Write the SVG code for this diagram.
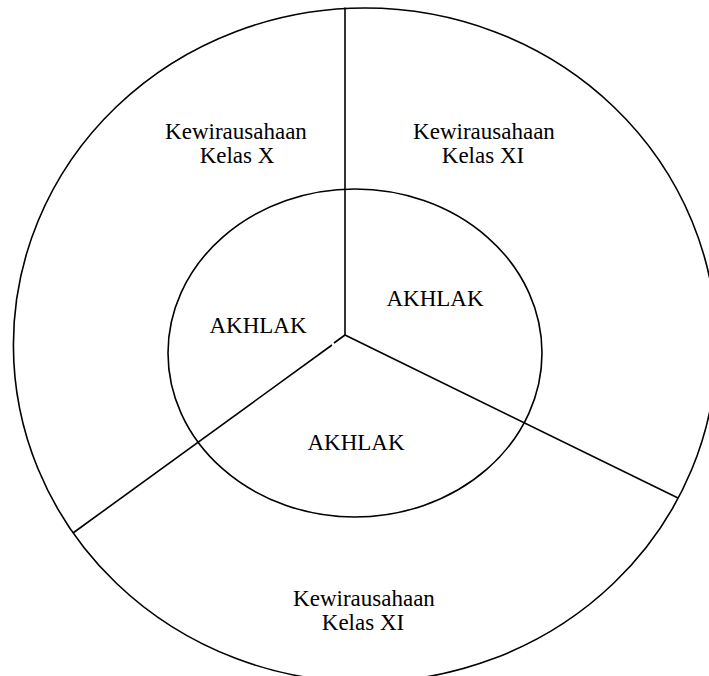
<svg xmlns="http://www.w3.org/2000/svg" width="709" height="676" viewBox="0 0 709 676">
<style>
.s{fill:none;stroke:#000;stroke-width:1.6}
.t{font-family:"Liberation Serif","Times New Roman",serif;font-size:23px;fill:#000;text-anchor:middle}
</style>
<rect width="709" height="676" fill="#fff"/>
<g id="outer"><ellipse class="s" cx="365" cy="345" rx="351.6" ry="337"/></g>
<g id="inner"><ellipse class="s" cx="355" cy="353" rx="187" ry="164"/></g>
<g id="connectors">
<line class="s" x1="345" y1="7.5" x2="345" y2="335"/>
<line class="s" x1="345" y1="335" x2="678" y2="498"/>
<line class="s" x1="345" y1="335" x2="334" y2="343"/>
<line class="s" x1="332" y1="345" x2="73" y2="533"/>
</g>
<g id="seg-x"><text class="t" x="236" y="139">Kewirausahaan</text><text class="t" x="237" y="163">Kelas X</text></g>
<g id="seg-xi-top"><text class="t" x="484" y="139">Kewirausahaan</text><text class="t" x="483" y="163">Kelas XI</text></g>
<g id="seg-xi-bottom"><text class="t" x="364" y="606">Kewirausahaan</text><text class="t" x="363" y="630">Kelas XI</text></g>
<g id="akhlak-left"><text class="t" x="258" y="333">AKHLAK</text></g>
<g id="akhlak-right"><text class="t" x="435" y="306">AKHLAK</text></g>
<g id="akhlak-bottom"><text class="t" x="356" y="450">AKHLAK</text></g>
</svg>
